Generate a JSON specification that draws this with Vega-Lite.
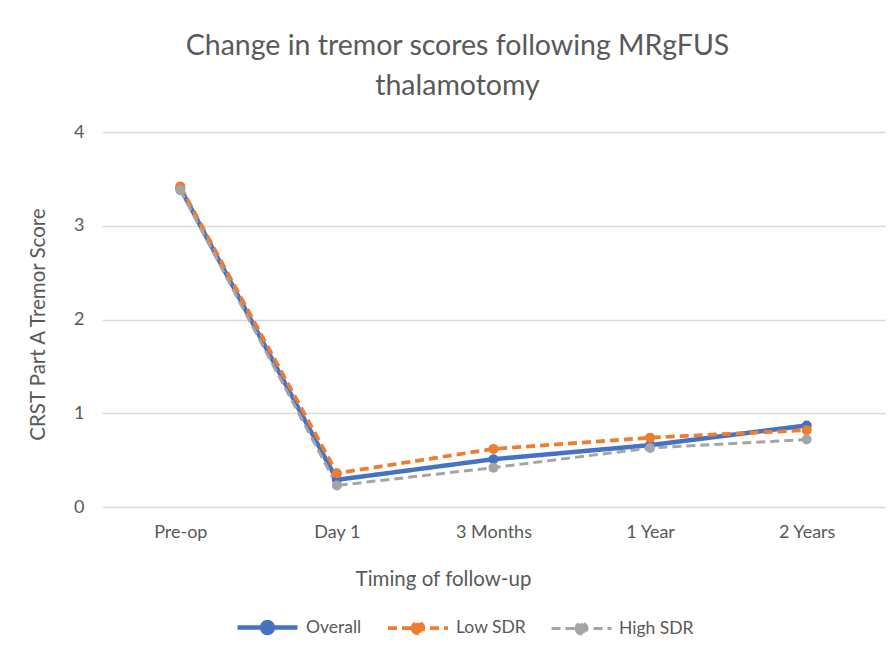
{
  "$schema": "https://vega.github.io/schema/vega-lite/v6.json",
  "autosize": "none",
  "width": 783,
  "height": 375,
  "padding": {"left": 102, "top": 132, "right": 10, "bottom": 146},
  "background": "white",
  "config": {
    "view": {"stroke": null},
    "font": "Lato"
  },
  "title": {
    "text": ["Change in tremor scores following MRgFUS", "thalamotomy"],
    "font": "Lato",
    "fontSize": 28.5,
    "fontWeight": "normal",
    "color": "#595959",
    "lineHeight": 40,
    "anchor": "middle",
    "frame": "group",
    "dx": -36,
    "offset": 23
  },
  "data": {
    "values": [
      {"time": "Pre-op", "series": "Overall", "score": 3.40},
      {"time": "Day 1", "series": "Overall", "score": 0.29},
      {"time": "3 Months", "series": "Overall", "score": 0.51},
      {"time": "1 Year", "series": "Overall", "score": 0.66},
      {"time": "2 Years", "series": "Overall", "score": 0.87},
      {"time": "Pre-op", "series": "Low SDR", "score": 3.42},
      {"time": "Day 1", "series": "Low SDR", "score": 0.36},
      {"time": "3 Months", "series": "Low SDR", "score": 0.62},
      {"time": "1 Year", "series": "Low SDR", "score": 0.74},
      {"time": "2 Years", "series": "Low SDR", "score": 0.82},
      {"time": "Pre-op", "series": "High SDR", "score": 3.38},
      {"time": "Day 1", "series": "High SDR", "score": 0.23},
      {"time": "3 Months", "series": "High SDR", "score": 0.42},
      {"time": "1 Year", "series": "High SDR", "score": 0.63},
      {"time": "2 Years", "series": "High SDR", "score": 0.72}
    ]
  },
  "encoding": {
    "x": {
      "field": "time",
      "type": "nominal",
      "sort": ["Pre-op", "Day 1", "3 Months", "1 Year", "2 Years"],
      "scale": {"type": "point", "padding": 0.5},
      "axis": {
        "title": "Timing of follow-up",
        "labelAngle": 0,
        "ticks": false,
        "domain": false,
        "grid": false,
        "labelFont": "Lato",
        "labelFontSize": 18,
        "labelColor": "#595959",
        "labelPadding": 16,
        "titleFont": "Lato",
        "titleFontSize": 20.5,
        "titleFontWeight": "normal",
        "titleColor": "#595959",
        "titleX": 341,
        "titleY": 78,
        "titleBaseline": "alphabetic",
        "titleAnchor": "middle"
      }
    },
    "y": {
      "field": "score",
      "type": "quantitative",
      "scale": {"domain": [0, 4]},
      "axis": {
        "title": "CRST Part A Tremor Score",
        "values": [0, 1, 2, 3, 4],
        "ticks": false,
        "domain": false,
        "gridColor": "#d9d9d9",
        "gridWidth": 1.3,
        "labelFont": "Lato",
        "labelFontSize": 18,
        "labelColor": "#595959",
        "labelPadding": 18,
        "titleFont": "Lato",
        "titleFontSize": 20.5,
        "titleFontWeight": "normal",
        "titleColor": "#595959",
        "titleX": -64,
        "titleY": 192,
        "titleAnchor": "middle",
        "titleBaseline": "middle"
      }
    },
    "color": {
      "field": "series",
      "type": "nominal",
      "scale": {
        "domain": ["Overall", "Low SDR", "High SDR"],
        "range": ["#4472C4", "#ED7D31", "#A5A5A5"]
      },
      "legend": {
        "title": null,
        "orient": "none",
        "direction": "horizontal",
        "legendX": 133,
        "legendY": 463,
        "symbolType": "M-1,0L1,0M-0.18,0A0.18,0.18,0,1,0,0.18,0A0.18,0.18,0,1,0,-0.18,0Z",
        "symbolSize": 3600,
        "symbolStrokeWidth": 3.5,
        "labelFont": "Lato",
        "labelFontSize": 17.5,
        "labelColor": "#595959",
        "labelOffset": 6,
        "columnPadding": 18,
        "encode": {
          "symbols": {"update": {"fill": {"scale": "color", "field": "value"}, "fillOpacity": {"value": 1}}}
        }
      }
    },
    "strokeDash": {
      "field": "series",
      "type": "nominal",
      "scale": {
        "domain": ["Overall", "Low SDR", "High SDR"],
        "range": [[1, 0], [9, 5], [9, 5]]
      },
      "legend": {
        "title": null
      }
    }
  },
  "layer": [
    {
      "mark": {"type": "line", "strokeCap": "butt"},
      "encoding": {
        "strokeWidth": {
          "field": "series",
          "type": "nominal",
          "scale": {"domain": ["Overall", "Low SDR", "High SDR"], "range": [4.5, 3, 3]},
          "legend": null
        }
      }
    },
    {
      "mark": {"type": "point", "shape": "circle", "filled": true, "opacity": 1, "size": 100},
      "encoding": {
        "strokeDash": {"value": [1, 0]}
      }
    }
  ]
}
